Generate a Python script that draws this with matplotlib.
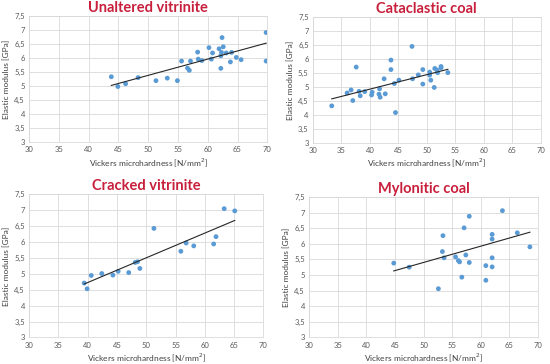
import numpy as np
import matplotlib.pyplot as plt

# Unaltered vitrinite
unalt_hv = [43.8, 44.9, 46.2, 48.3, 51.3, 53.2, 54.9, 55.6, 56.6, 56.9, 57.1, 58.3, 58.4, 59.0,
            60.2, 60.6, 60.8, 61.9, 62.2, 62.2, 62.3, 62.4, 62.6, 63.1, 63.8, 64.0, 64.8, 65.6,
            69.8, 69.8]
unalt_e = [5.33, 4.98, 5.08, 5.30, 5.19, 5.28, 5.19, 5.89, 5.64, 5.56, 5.89, 6.21, 5.96, 5.91,
           6.37, 5.96, 6.18, 6.33, 6.08, 5.63, 6.20, 6.73, 6.40, 6.18, 5.86, 6.20, 6.02, 5.94,
           6.91, 5.89]

# Cataclastic coal
cata_hv = [33.3, 36.0, 36.7, 37.0, 37.6, 38.1, 38.3, 39.1, 40.3, 40.4, 41.6, 41.7, 41.8, 42.5,
           42.7, 43.7, 43.7, 44.3, 44.5, 45.1, 47.4, 47.5, 48.5, 49.3, 49.3, 50.5, 50.5, 50.7,
           51.3, 51.4, 51.8, 51.9, 52.5, 52.5, 53.7]
cata_e = [4.32, 4.78, 4.89, 4.51, 5.71, 4.84, 4.68, 4.83, 4.71, 4.81, 4.74, 4.93, 4.63, 5.29,
          4.75, 5.96, 5.62, 5.12, 4.08, 5.24, 6.45, 5.29, 5.43, 5.62, 5.10, 5.53, 5.42, 5.24,
          4.98, 5.66, 5.60, 5.51, 5.73, 5.68, 5.51]

# Cracked vitrinite
crack_hv = [39.4, 39.9, 40.6, 42.4, 44.3, 45.2, 47.0, 48.1, 48.5, 48.9, 51.3, 55.9, 56.8, 58.1,
            61.5, 61.9, 63.3, 65.1]
crack_e = [4.71, 4.53, 4.95, 5.01, 4.96, 5.08, 5.04, 5.36, 5.38, 5.17, 6.43, 5.71, 5.97, 5.88,
           5.94, 6.17, 7.05, 6.98]

# Mylonitic coal
mylo_hv = [44.8, 47.5, 52.6, 53.3, 53.4, 53.6, 55.6, 56.1, 56.3, 56.7, 57.1, 57.4, 58.0, 58.0,
           60.9, 60.9, 62.0, 62.0, 62.0, 62.0, 63.8, 66.4, 68.6]
mylo_e = [5.38, 5.25, 4.56, 5.75, 6.26, 5.55, 5.58, 5.46, 5.42, 4.93, 6.51, 5.64, 6.88, 5.40,
          5.30, 4.83, 6.30, 6.15, 5.55, 5.26, 7.06, 6.35, 5.90]

# trendline values (E at first and last hardness)
trend_e = [(5.02, 6.53), (4.57, 5.63), (4.68, 6.68), (5.13, 6.37)]

x_ticks = [30, 35, 40, 45, 50, 55, 60, 65, 70]
y_ticks = [3, 3.5, 4, 4.5, 5, 5.5, 6, 6.5, 7, 7.5]
y_labels = ['3', '3,5', '4', '4,5', '5', '5,5', '6', '6,5', '7', '7,5']

titles = ['Unaltered vitrinite', 'Cataclastic coal', 'Cracked vitrinite', 'Mylonitic coal']
data = [(unalt_hv, unalt_e), (cata_hv, cata_e), (crack_hv, crack_e), (mylo_hv, mylo_e)]

# axes rectangles [left, bottom, width, height] in figure fractions
rects = [[0.053, 0.610, 0.433, 0.346],
         [0.569, 0.608, 0.414, 0.345],
         [0.053, 0.073, 0.426, 0.393],
         [0.562, 0.073, 0.416, 0.386]]

plt.rcParams['font.family'] = ['Lato', 'DejaVu Sans']
fig = plt.figure(figsize=(5.5, 3.64), dpi=100)

for rect, title, (hv, e), te in zip(rects, titles, data, trend_e):
    ax = fig.add_axes(rect)
    ax.scatter(hv, e, s=12, color='#5B9BD5', edgecolors='none', zorder=3)
    # linear trendline over data range
    ax.plot([min(hv), max(hv)], te, color='#262626', linewidth=0.8, zorder=4)
    ax.set_xlim(30, 70)
    ax.set_ylim(3, 7.5)
    ax.set_xticks(x_ticks)
    ax.set_yticks(y_ticks)
    ax.set_yticklabels(y_labels)
    ax.tick_params(length=0, labelsize=5.5, labelcolor='#595959', pad=3)
    ax.grid(True, color='#D9D9D9', linewidth=0.6)
    ax.set_axisbelow(True)
    for s in ax.spines.values():
        s.set_color('#D9D9D9')
        s.set_linewidth(0.6)
    ax.set_xlabel('Vickers microhardness [N/mm$^2$]', fontsize=6, color='#404040', labelpad=2)
    ax.set_ylabel('Elastic modulus [GPa]', fontsize=6, color='#404040', labelpad=3)
    ax.set_title(title, fontsize=10.5, fontweight='bold', color='#C8203C', pad=3)

fig.savefig('out.png', dpi=100)
